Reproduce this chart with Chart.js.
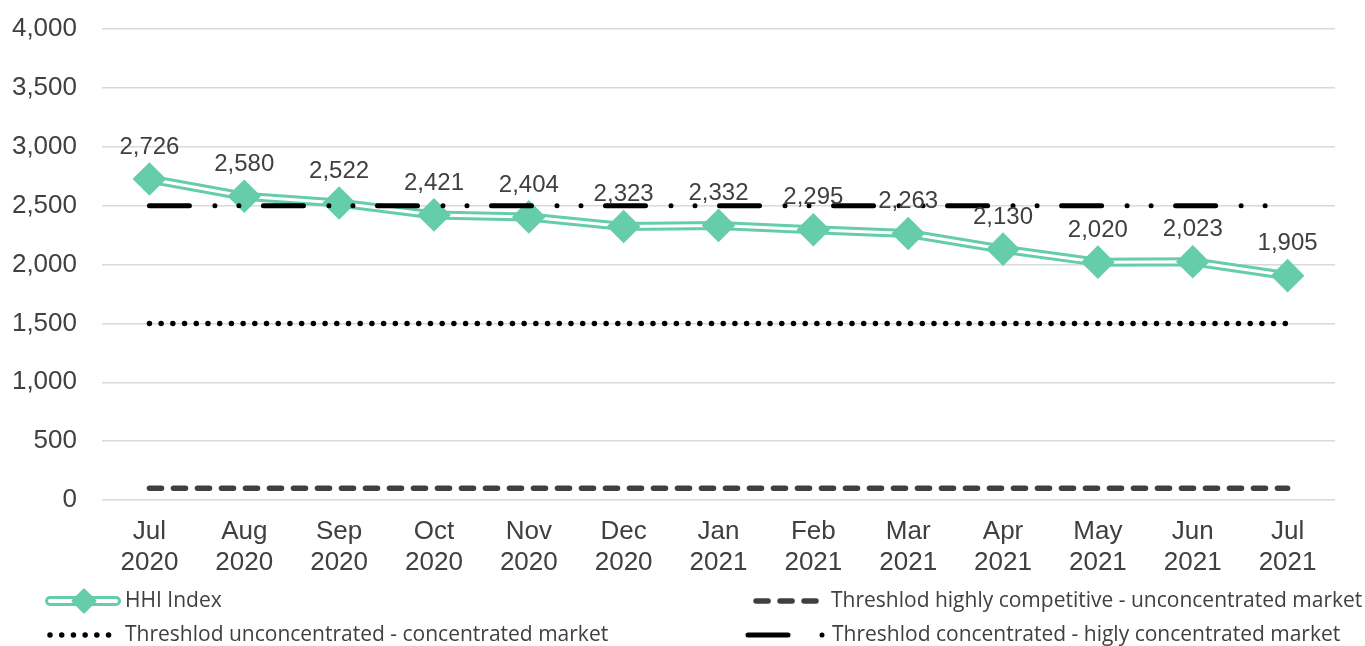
<!DOCTYPE html>
<html>
<head>
<meta charset="utf-8">
<script src="https://cdn.jsdelivr.net/npm/chart.js@4.4.0/dist/chart.umd.min.js"></script>
<style>
  html, body { margin: 0; padding: 0; background: #fff; }
</style>
</head>
<body>
<canvas id="myLineChart" width="1365" height="646"></canvas>
<script>
// dados
const meses = [
  ['Jul', '2020'], ['Aug', '2020'], ['Sep', '2020'], ['Oct', '2020'], ['Nov', '2020'],
  ['Dec', '2020'], ['Jan', '2021'], ['Feb', '2021'], ['Mar', '2021'], ['Apr', '2021'],
  ['May', '2021'], ['Jun', '2021'], ['Jul', '2021']
];
const hhi = [2726, 2580, 2522, 2421, 2404, 2323, 2332, 2295, 2263, 2130, 2020, 2023, 1905];
const limiteCompetitivo = [100, 100, 100, 100, 100, 100, 100, 100, 100, 100, 100, 100, 100];
const limiteDesconcentrado = [1500, 1500, 1500, 1500, 1500, 1500, 1500, 1500, 1500, 1500, 1500, 1500, 1500];
const limiteConcentrado = [2500, 2500, 2500, 2500, 2500, 2500, 2500, 2500, 2500, 2500, 2500, 2500, 2500];
const ticksY = [0, 500, 1000, 1500, 2000, 2500, 3000, 3500, 4000];
const nomes = [
  'HHI Index',
  'Threshlod highly competitive - unconcentrated market',
  'Threshlod unconcentrated - concentrated market',
  'Threshlod concentrated - higly concentrated market'
];

const verde = '#66cdaa';
const cinza = '#404040';
const fonteLegenda = '21px "Open Sans", "Noto Sans", sans-serif';

// padrões de traço
const tracoCompetitivo = [12.1, 11.9];
const tracoDesconcentrado = [0.01, 11.7];
const tracoConcentrado = [40, 25.5, 0.01, 24, 0.01, 24.5];

// rótulos de dados acima dos marcadores
const rotulos = {
  id: 'rotulos',
  afterDatasetsDraw(chart) {
    const ctx = chart.ctx;
    const meta = chart.getDatasetMeta(2);
    ctx.save();
    ctx.font = '24px "Liberation Sans", Arial, sans-serif';
    ctx.fillStyle = cinza;
    ctx.textAlign = 'center';
    ctx.textBaseline = 'middle';
    meta.data.forEach((p, i) => {
      ctx.fillText(hhi[i].toLocaleString('en-US'), p.x, p.y - 32);
    });
    ctx.restore();
  }
};

function linha(ctx, x1, x2, y, cor, largura, traco) {
  ctx.save();
  ctx.strokeStyle = cor;
  ctx.lineWidth = largura;
  ctx.lineCap = 'round';
  ctx.setLineDash(traco);
  ctx.beginPath();
  ctx.moveTo(x1, y);
  ctx.lineTo(x2, y);
  ctx.stroke();
  ctx.restore();
}

// legenda em duas colunas
const legenda = {
  id: 'legenda',
  afterDraw(chart) {
    const ctx = chart.ctx;
    const y1 = 601, y2 = 635;

    // HHI
    linha(ctx, 50, 116, y1, verde, 10, []);
    linha(ctx, 50, 116, y1, '#fff', 4, []);
    ctx.save();
    ctx.fillStyle = verde;
    ctx.strokeStyle = verde;
    ctx.lineWidth = 3;
    ctx.lineJoin = 'round';
    ctx.beginPath();
    ctx.moveTo(84, y1 - 11);
    ctx.lineTo(95, y1);
    ctx.lineTo(84, y1 + 11);
    ctx.lineTo(73, y1);
    ctx.closePath();
    ctx.fill();
    ctx.stroke();
    ctx.restore();

    linha(ctx, 50, 110, y2, '#000', 5.5, tracoDesconcentrado);
    linha(ctx, 756, 816, y1, cinza, 5.5, tracoCompetitivo);
    linha(ctx, 748, 832, y2, '#000', 5, [40, 34, 0.01, 100]);

    ctx.save();
    ctx.font = fonteLegenda;
    ctx.fillStyle = cinza;
    ctx.textBaseline = 'middle';
    ctx.fillText(nomes[0], 125, y1);
    ctx.fillText(nomes[2], 125, y2);
    ctx.fillText(nomes[1], 831, y1);
    ctx.fillText(nomes[3], 832, y2);
    ctx.restore();
  }
};

const ctx = document.getElementById('myLineChart').getContext('2d');
const myLineChart = new Chart(ctx, {
  type: 'line',
  data: {
    labels: meses,
    datasets: [
      {
        label: nomes[0],
        data: hhi,
        borderColor: verde,
        borderWidth: 9,
        borderJoinStyle: 'round',
        pointRadius: 0,
        tension: 0,
        order: 5
      },
      {
        label: nomes[0],
        data: hhi,
        borderColor: '#fff',
        borderWidth: 3,
        borderJoinStyle: 'round',
        pointRadius: 0,
        tension: 0,
        order: 4
      },
      {
        label: nomes[0],
        data: hhi,
        showLine: false,
        pointStyle: 'rectRot',
        pointRadius: 14,
        pointBackgroundColor: verde,
        pointBorderColor: verde,
        pointBorderWidth: 4,
        order: 3
      },
      {
        label: nomes[1],
        data: limiteCompetitivo,
        borderColor: cinza,
        borderWidth: 5.5,
        borderCapStyle: 'round',
        borderDash: tracoCompetitivo,
        pointRadius: 0,
        order: 2
      },
      {
        label: nomes[2],
        data: limiteDesconcentrado,
        borderColor: '#000',
        borderWidth: 5.5,
        borderCapStyle: 'round',
        borderDash: tracoDesconcentrado,
        pointRadius: 0,
        order: 1
      },
      {
        label: nomes[3],
        data: limiteConcentrado,
        borderColor: '#000',
        borderWidth: 5,
        borderCapStyle: 'round',
        borderDash: tracoConcentrado,
        pointRadius: 0,
        order: 0
      }
    ]
  },
  options: {
    responsive: false,
    animation: false,
    events: [],
    devicePixelRatio: 1,
    layout: { padding: { top: 29, right: 30, left: 0, bottom: 0 } },
    plugins: {
      legend: { display: false },
      tooltip: { enabled: false }
    },
    scales: {
      x: {
        type: 'category',
        offset: true,
        grid: { display: false, drawTicks: false },
        border: { display: false },
        ticks: {
          color: cinza,
          font: { family: '"Liberation Sans", Arial, sans-serif', size: 26, lineHeight: 1.2 },
          padding: 16,
          maxRotation: 0,
          autoSkip: false
        },
        afterFit(scale) { scale.height = 146; }
      },
      y: {
        min: 0,
        max: 4000,
        afterBuildTicks(scale) { scale.ticks = ticksY.map(v => ({ value: v })); },
        grid: { color: '#d9d9d9', lineWidth: 1.5, drawTicks: false },
        border: { display: false },
        ticks: {
          color: cinza,
          font: { family: '"Liberation Sans", Arial, sans-serif', size: 26 },
          padding: 25,
          callback: v => v.toLocaleString('en-US')
        },
        afterFit(scale) {
          scale.width = 102;
          scale.paddingTop = 0;
          scale.paddingBottom = 0;
        }
      }
    }
  },
  plugins: [rotulos, legenda]
});
</script>
</body>
</html>
